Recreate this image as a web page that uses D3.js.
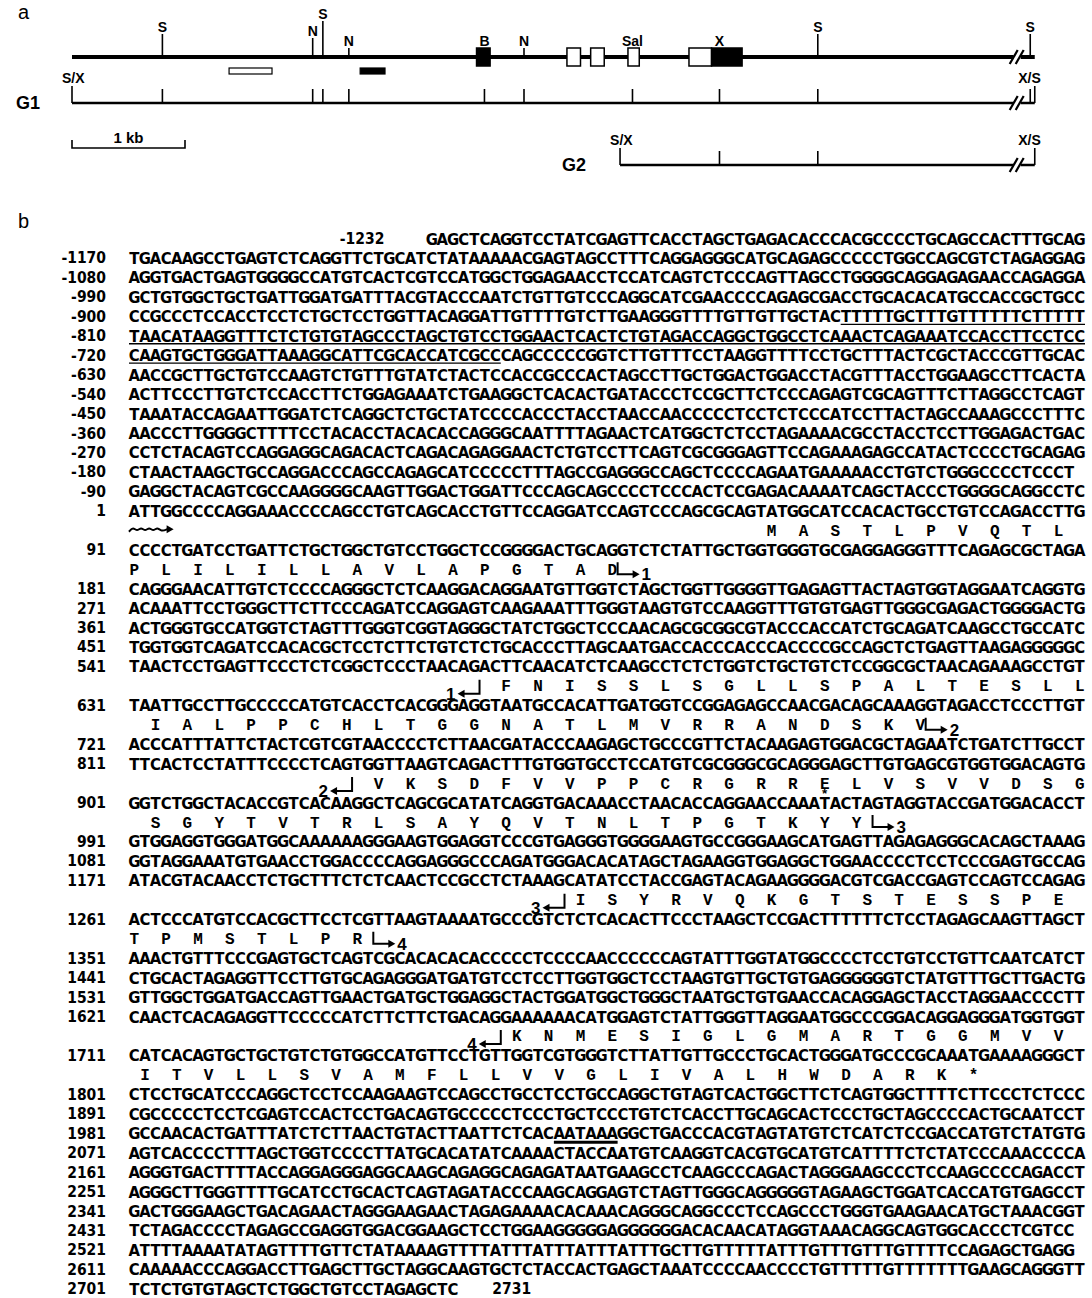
<!DOCTYPE html>
<html>
<head>
<meta charset="utf-8">
<script src="https://cdn.jsdelivr.net/npm/d3@7"></script>
<style>
  body { margin: 0; background: #fff; }
  svg text { fill: #000; }
  .seq { font-family: "Liberation Sans Narrow", "DejaVu Sans Condensed", "Liberation Sans", sans-serif; font-weight: bold; font-size: 16.5px; }
  .num { font-family: "Liberation Sans Narrow", "DejaVu Sans Condensed", "Liberation Sans", sans-serif; font-weight: bold; font-size: 15.5px; }
  .aa  { font-family: "Liberation Mono", "DejaVu Sans Mono", monospace; font-weight: bold; font-size: 16px; }
  .map { font-family: "Liberation Sans", Arial, sans-serif; font-weight: bold; font-size: 14px; }
  .big { font-family: "Liberation Sans", Arial, sans-serif; font-weight: bold; font-size: 18px; }
  .panel { font-family: "Liberation Sans", Arial, sans-serif; font-size: 20px; }
</style>
</head>
<body>
<div id="fig"></div>
<script>
// ---- panel a : restriction map (kb from the left S/X end) ----
const siteNames = ["S", "N", "S", "N", "B", "N", "Sal", "X", "S", "S"]
const siteKb    = [0.80, 2.13, 2.22, 2.45, 3.65, 4.00, 4.96, 5.73, 6.60, 8.48]
const siteTier  = [1, 2, 0, 3, 3, 3, 3, 3, 1, 1]     // label height class
const exonKb    = [[3.58, 3.70], [4.38, 4.50], [4.59, 4.71], [4.92, 5.02], [5.46, 5.66], [5.66, 5.93]]
const exonFill  = ["#000", "#fff", "#fff", "#fff", "#fff", "#000"]
const probeKb   = [[1.39, 1.77], [2.55, 2.77]]
const probeFill = ["#fff", "#000"]
const g2Sites   = [4.85, 5.73, 6.60, 8.52]
const mapEndKb  = 8.52
const breakKb   = 8.36

// ---- panel b : sequence ----
const lineNumbers = [-1232, -1170, -1080, -990, -900, -810, -720, -630, -540, -450, -360, -270, -180, -90,
  1, 91, 181, 271, 361, 451, 541, 631, 721, 811, 901, 991, 1081, 1171, 1261, 1351, 1441, 1531, 1621,
  1711, 1801, 1891, 1981, 2071, 2161, 2251, 2341, 2431, 2521, 2611, 2701]
const lineSeqs = [
  "GAGCTCAGGTCCTATCGAGTTCACCTAGCTGAGACACCCACGCCCCTGCAGCCACTTTGCAG",
  "TGACAAGCCTGAGTCTCAGGTTCTGCATCTATAAAAACGAGTAGCCTTTCAGGAGGGCATGCAGAGCCCCCTGGCCAGCGTCTAGAGGAG",
  "AGGTGACTGAGTGGGGCCATGTCACTCGTCCATGGCTGGAGAACCTCCATCAGTCTCCCAGTTAGCCTGGGGCAGGAGAGAACCAGAGGA",
  "GCTGTGGCTGCTGATTGGATGATTTACGTACCCAATCTGTTGTCCCAGGCATCGAACCCCAGAGCGACCTGCACACATGCCACCGCTGCC",
  "CCGCCCTCCACCTCCTCTGCTCCTGGTTACAGGATTGTTTTGTCTTGAAGGGTTTTGTTGTTGCTACTTTTTGCTTTGTTTTTTCTTTTT",
  "TAACATAAGGTTTCTCTGTGTAGCCCTAGCTGTCCTGGAACTCACTCTGTAGACCAGGCTGGCCTCAAACTCAGAAATCCACCTTCCTCC",
  "CAAGTGCTGGGATTAAAGGCATTCGCACCATCGCCCAGCCCCCGGTCTTGTTTCCTAAGGTTTTCCTGCTTTACTCGCTACCCGTTGCAC",
  "AACCGCTTGCTGTCCAAGTCTGTTTGTATCTACTCCACCGCCCACTAGCCTTGCTGGACTGGACCTACGTTTACCTGGAAGCCTTCACTA",
  "ACTTCCCTTGTCTCCACCTTCTGGAGAAATCTGAAGGCTCACACTGATACCCTCCGCTTCTCCCAGAGTCGCAGTTTCTTAGGCCTCAGT",
  "TAAATACCAGAATTGGATCTCAGGCTCTGCTATCCCCACCCTACCTAACCAACCCCCTCCTCTCCCATCCTTACTAGCCAAAGCCCTTTC",
  "AACCCTTGGGGCTTTTCCTACACCTACACACCAGGGCAATTTTAGAACTCATGGCTCTCCTAGAAAACGCCTACCTCCTTGGAGACTGAC",
  "CCTCTACAGTCCAGGAGGCAGACACTCAGACAGAGGAACTCTGTCCTTCAGTCGCGGGAGTTCCAGAAAGAGCCATACTCCCCTGCAGAG",
  "CTAACTAAGCTGCCAGGACCCAGCCAGAGCATCCCCCTTTAGCCGAGGGCCAGCTCCCCAGAATGAAAAACCTGTCTGGGCCCCTCCCT",
  "GAGGCTACAGTCGCCAAGGGGCAAGTTGGACTGGATTCCCAGCAGCCCCTCCCACTCCGAGACAAAATCAGCTACCCTGGGGCAGGCCTC",
  "ATTGGCCCCAGGAAACCCCAGCCTGTCAGCACCTGTTCCAGGATCCAGTCCCAGCGCAGTATGGCATCCACACTGCCTGTCCAGACCTTG",
  "CCCCTGATCCTGATTCTGCTGGCTGTCCTGGCTCCGGGGACTGCAGGTCTCTATTGCTGGTGGGTGCGAGGAGGGTTTCAGAGCGCTAGA",
  "CAGGGAACATTGTCTCCCCAGGGCTCTCAAGGACAGGAATGTTGGTCTAGCTGGTTGGGGTTGAGAGTTACTAGTGGTAGGAATCAGGTG",
  "ACAAATTCCTGGGCTTCTTCCCAGATCCAGGAGTCAAGAAATTTGGGTAAGTGTCCAAGGTTTGTGTGAGTTGGGCGAGACTGGGGACTG",
  "ACTGGGTGCCATGGTCTAGTTTGGGTCGGTAGGGCTATCTGGCTCCCAACAGCGCGGCGTACCCACCATCTGCAGATCAAGCCTGCCATC",
  "TGGTGGTCAGATCCACACGCTCCTCTTCTGTCTCTGCACCCTTAGCAATGACCACCCACCCACCCCGCCAGCTCTGAGTTAAGAGGGGGC",
  "TAACTCCTGAGTTCCCTCTCGGCTCCCTAACAGACTTCAACATCTCAAGCCTCTCTGGTCTGCTGTCTCCGGCGCTAACAGAAAGCCTGT",
  "TAATTGCCTTGCCCCCATGTCACCTCACGGGAGGTAATGCCACATTGATGGTCCGGAGAGCCAACGACAGCAAAGGTAGACCTCCCTTGT",
  "ACCCATTTATTCTACTCGTCGTAACCCCTCTTAACGATACCCAAGAGCTGCCCGTTCTACAAGAGTGGACGCTAGAATCTGATCTTGCCT",
  "TTCACTCCTATTTCCCCTCAGTGGTTAAGTCAGACTTTGTGGTGCCTCCATGTCGCGGGCGCAGGGAGCTTGTGAGCGTGGTGGACAGTG",
  "GGTCTGGCTACACCGTCACAAGGCTCAGCGCATATCAGGTGACAAACCTAACACCAGGAACCAAATACTAGTAGGTACCGATGGACACCT",
  "GTGGAGGTGGGATGGCAAAAAAGGGAAGTGGAGGTCCCGTGAGGGTGGGGAAGTGCCGGGAAGCATGAGTTAGAGAGGGCACAGCTAAAG",
  "GGTAGGAAATGTGAACCTGGACCCCAGGAGGGCCCAGATGGGACACATAGCTAGAAGGTGGAGGCTGGAACCCCTCCTCCCGAGTGCCAG",
  "ATACGTACAACCTCTGCTTTCTCTCAACTCCGCCTCTAAAGCATATCCTACCGAGTACAGAAGGGGACGTCGACCGAGTCCAGTCCAGAG",
  "ACTCCCATGTCCACGCTTCCTCGTTAAGTAAAATGCCCGTCTCTCACACTTCCCTAAGCTCCGACTTTTTTCTCCTAGAGCAAGTTAGCT",
  "AAACTGTTTCCCGAGTGCTCAGTCGCACACACACCCCCTCCCCAACCCCCCAGTATTTGGTATGGCCCCTCCTGTCCTGTTCAATCATCT",
  "CTGCACTAGAGGTTCCTTGTGCAGAGGGATGATGTCCTCCTTGGTGGCTCCTAAGTGTTGCTGTGAGGGGGGTCTATGTTTGCTTGACTG",
  "GTTGGCTGGATGACCAGTTGAACTGATGCTGGAGGCTACTGGATGGCTGGGCTAATGCTGTGAACCACAGGAGCTACCTAGGAACCCCTT",
  "CAACTCACAGAGGTTCCCCCATCTTCTTCTGACAGGAAAAAACATGGAGTCTATTGGGTTAGGAATGGCCCGGACAGGAGGGATGGTGGT",
  "CATCACAGTGCTGCTGTCTGTGGCCATGTTCCTGTTGGTCGTGGGTCTTATTGTTGCCCTGCACTGGGATGCCCGCAAATGAAAAGGGCT",
  "CTCCTGCATCCCAGGCTCCTCCAAGAAGTCCAGCCTGCCTCCTGCCAGGCTGTAGTCACTGGCTTCTCAGTGGCTTTTCTTCCCTCTCCC",
  "CGCCCCCTCCTCGAGTCCACTCCTGACAGTGCCCCCTCCCTGCTCCCTGTCTCACCTTGCAGCACTCCCTGCTAGCCCCACTGCAATCCT",
  "GCCAACACTGATTTATCTCTTAACTGTACTTAATTCTCACAATAAAGGCTGACCCACGTAGTATGTCTCATCTCCGACCATGTCTATGTG",
  "AGTCACCCCTTTAGCTGGTCCCCTTATGCACATATCAAAACTACCAATGTCAAGGTCACGTGCATGTCATTTTCTCTATCCCAAACCCCA",
  "AGGGTGACTTTTACCAGGAGGGAGGCAAGCAGAGGCAGAGATAATGAAGCCTCAAGCCCAGACTAGGGAAGCCCTCCAAGCCCCAGACCT",
  "AGGGCTTGGGTTTTGCATCCTGCACTCAGTAGATACCCAAGCAGGAGTCTAGTTGGGCAGGGGGTAGAAGCTGGATCACCATGTGAGCCT",
  "GACTGGGAAGCTGACAGAACTAGGGAAGAACTAGAGAAAACACAAACAGGGCAGGCCCTCCAGCCCTGGGTGAAGAACATGCTAAACGGT",
  "TCTAGACCCCTAGAGCCGAGGTGGACGGAAGCTCCTGGAAGGGGGAGGGGGGACACAACATAGGTAAACAGGCAGTGGCACCCTCGTCC",
  "ATTTTAAAATATAGTTTTGTTCTATAAAAGTTTTATTTATTTATTTATTTGCTTGTTTTTATTTGTTTGTTTGTTTTCCAGAGCTGAGG",
  "CAAAAACCCAGGACCTTGAGCTTGCTAGGCAAGTGCTCTACCACTGAGCTAAATCCCCAACCCCTGTTTTTGTTTTTTTGAAGCAGGGTT",
  "TCTCTGTGTAGCTCTGGCTGTCCTAGAGCTC"
]
const endNumber = 2731

// amino-acid rows: line they sit under, translation, column of first codon
const aaLine  = [1, 91, 541, 631, 811, 901, 1171, 1261, 1621, 1711]
const aaSeq   = ["MASTLPVQTL", "PLILILLAVLAPGTAD", "FNISSLSGLLSPALTESLL", "IALPPCHLTGGNATLMVRRANDSKV",
                 "VKSDFVVPPCRGRRELVSVVDSG", "SGYTVTRLSAYQVTNLTPGTKYY", "ISYRVQKGTSTESSPE", "TPMSTLPR",
                 "KNMESIGLGMARTGGMVV", "ITVLLSVAMFLLVVGLIVALHWDARK*"]
const aaStart = [60, 0, 35, 2, 23, 2, 42, 0, 36, 1]

// exon ends (donor, arrow to the right) and exon starts (acceptor, arrow to the left)
const donorLine = [91, 631, 901, 1261], donorCol = [46, 75, 70, 23], donorExon = [1, 2, 3, 4]
const accLine   = [541, 811, 1171, 1621], accCol = [33, 21, 41, 35], accExon = [1, 2, 3, 4]

// underlined stretches
const ulLine = [-900, -810, -720, 1981]
const ulFrom = [67, 0, 0, 40]
const ulTo   = [90, 90, 35, 46]
const ulBold = [false, false, false, true]

// starred residue (row under line 811, residue index)
const starLine = 811, starIdx = 14

const W = 1092, H = 1298
const svg = d3.select("#fig").append("svg").attr("width", W).attr("height", H)

// ================= panel a =================
const kb = d3.scaleLinear().domain([0, 1]).range([72, 185])
const geneY = 57, g1Y = 103, barY = 148, g2Y = 165
const tierY = [19, 32, 36, 46]
const pa = svg.append("g")

pa.append("text").attr("class", "panel").attr("x", 18).attr("y", 19).text("a")

// site ticks + labels
siteKb.forEach((k, i) => {
  const top = tierY[siteTier[i]]
  pa.append("line").attr("x1", kb(k)).attr("x2", kb(k)).attr("y1", top + 2).attr("y2", geneY)
    .attr("stroke", "#000").attr("stroke-width", 1.6)
  pa.append("text").attr("class", "map").attr("x", kb(k)).attr("y", top)
    .attr("text-anchor", "middle").text(siteNames[i])
})
pa.append("line").attr("x1", kb(0)).attr("x2", kb(mapEndKb)).attr("y1", geneY).attr("y2", geneY)
  .attr("stroke", "#000").attr("stroke-width", 4)
pa.selectAll("rect.exon").data(exonKb).join("rect").attr("class", "exon")
  .attr("x", d => kb(d[0])).attr("width", d => kb(d[1]) - kb(d[0]))
  .attr("y", geneY - 9).attr("height", 18)
  .attr("fill", (d, i) => exonFill[i]).attr("stroke", "#000").attr("stroke-width", 1.5)
pa.selectAll("rect.probe").data(probeKb).join("rect").attr("class", "probe")
  .attr("x", d => kb(d[0])).attr("width", d => kb(d[1]) - kb(d[0]))
  .attr("y", geneY + 11).attr("height", 6)
  .attr("fill", (d, i) => probeFill[i]).attr("stroke", "#000").attr("stroke-width", 1.2)

function breakMark(g, k, y) {
  const bx = kb(k)
  g.append("rect").attr("x", bx - 3).attr("y", y - 5).attr("width", 7).attr("height", 10).attr("fill", "#fff")
  ;[-3, 3].forEach(o => g.append("line")
    .attr("x1", bx + o - 4).attr("y1", y + 7).attr("x2", bx + o + 4).attr("y2", y - 7)
    .attr("stroke", "#000").attr("stroke-width", 2.2))
}
breakMark(pa, breakKb, geneY)

// G1 clone
pa.append("text").attr("class", "big").attr("x", 16).attr("y", g1Y + 6).text("G1")
pa.append("line").attr("x1", kb(0)).attr("x2", kb(mapEndKb)).attr("y1", g1Y).attr("y2", g1Y)
  .attr("stroke", "#000").attr("stroke-width", 2.5)
;[0, ...siteKb, mapEndKb].forEach((k, i, arr) => {
  const end = i === 0 || i === arr.length - 1
  pa.append("line").attr("x1", kb(k)).attr("x2", kb(k)).attr("y1", g1Y - (end ? 17 : 14)).attr("y2", g1Y)
    .attr("stroke", "#000").attr("stroke-width", 1.6)
})
breakMark(pa, breakKb, g1Y)
pa.append("text").attr("class", "map").attr("x", kb(0) - 10).attr("y", g1Y - 20).text("S/X")
pa.append("text").attr("class", "map").attr("x", kb(mapEndKb) + 6).attr("y", g1Y - 20)
  .attr("text-anchor", "end").text("X/S")

// scale bar
pa.append("path").attr("d", `M${kb(0)},${barY - 8}V${barY}H${kb(1)}V${barY - 8}`)
  .attr("fill", "none").attr("stroke", "#000").attr("stroke-width", 1.6)
pa.append("text").attr("class", "map").style("font-size", "15px").attr("x", kb(0.5)).attr("y", barY - 5)
  .attr("text-anchor", "middle").text("1 kb")

// G2 clone
pa.append("text").attr("class", "big").attr("x", kb(g2Sites[0]) - 58).attr("y", g2Y + 6).text("G2")
pa.append("line").attr("x1", kb(g2Sites[0])).attr("x2", kb(mapEndKb)).attr("y1", g2Y).attr("y2", g2Y)
  .attr("stroke", "#000").attr("stroke-width", 2.5)
g2Sites.forEach((k, i) => {
  const end = i === 0 || i === g2Sites.length - 1
  pa.append("line").attr("x1", kb(k)).attr("x2", kb(k)).attr("y1", g2Y - (end ? 17 : 14)).attr("y2", g2Y)
    .attr("stroke", "#000").attr("stroke-width", 1.6)
})
breakMark(pa, breakKb, g2Y)
pa.append("text").attr("class", "map").attr("x", kb(g2Sites[0]) - 10).attr("y", g2Y - 20).text("S/X")
pa.append("text").attr("class", "map").attr("x", kb(mapEndKb) + 6).attr("y", g2Y - 20)
  .attr("text-anchor", "end").text("X/S")

// ================= panel b =================
const rows = []
lineNumbers.forEach((n, i) => {
  rows.push({ type: "seq", n, s: lineSeqs[i], i })
  if (aaLine.includes(n)) rows.push({ type: "aa", n, k: aaLine.indexOf(n) })
})
const x = d3.scaleLinear().domain([0, 90]).range([129, 1085])
const y = d3.scaleLinear().domain([0, rows.length - 1]).range([238.5, 1288.8])
rows.forEach((r, j) => r.y = y(j))
const rowOf = (t, n) => rows.find(r => r.type === t && r.n === n)

const pb = svg.append("g")
pb.append("text").attr("class", "panel").attr("x", 18).attr("y", 228).text("b")

const seqRows = rows.filter(r => r.type === "seq")
seqRows.forEach(r => { r.c0 = r.i === 0 ? 90 - r.s.length : 0 })

// bases, one glyph per column
const bases = seqRows.flatMap(r => r.s.split("").map((b, c) => ({ b, c: r.c0 + c, y: r.y })))
pb.append("g").selectAll("text").data(bases).join("text")
  .attr("class", "seq").attr("text-anchor", "middle")
  .attr("x", d => x(d.c + 0.5)).attr("y", d => d.y + 6).text(d => d.b)

// line numbers
pb.append("g").selectAll("text").data(seqRows).join("text")
  .attr("class", "num").attr("text-anchor", "end")
  .attr("x", r => r.i === 0 ? x(r.c0) - 42 : 106).attr("y", r => r.y + 5.5).text(r => r.n)
const lastRow = seqRows[seqRows.length - 1]
pb.append("text").attr("class", "num").attr("x", x(lastRow.s.length) + 34).attr("y", lastRow.y + 5.5).text(endNumber)

// underlines
ulLine.forEach((n, i) => {
  const r = rowOf("seq", n)
  pb.append("line").attr("x1", x(ulFrom[i])).attr("x2", x(ulTo[i]))
    .attr("y1", r.y + (ulBold[i] ? 9 : 8)).attr("y2", r.y + (ulBold[i] ? 9 : 8))
    .attr("stroke", "#000").attr("stroke-width", ulBold[i] ? 3 : 1.3)
})

// amino acids
const aaRows = rows.filter(r => r.type === "aa")
const residues = aaRows.flatMap(r => aaSeq[r.k].split("").map((a, m) => ({ a, c: aaStart[r.k] + 3 * m, y: r.y })))
pb.append("g").selectAll("text").data(residues).join("text")
  .attr("class", "aa").attr("text-anchor", "middle")
  .attr("x", d => x(d.c + 0.5)).attr("y", d => d.y + 5.5).text(d => d.a)

// starred residue
{
  const r = rowOf("aa", starLine), k = aaLine.indexOf(starLine)
  pb.append("text").attr("class", "aa").attr("text-anchor", "middle").style("font-size", "13px")
    .attr("x", x(aaStart[k] + 3 * starIdx + 0.5)).attr("y", r.y + 15).text("*")
}

// splice arrows
function arrowHead(g, tipX, yy, dir) {
  g.append("path").attr("d", `M${tipX},${yy}L${tipX - dir * 7},${yy - 4}L${tipX - dir * 7},${yy + 4}Z`).attr("fill", "#000")
}
donorLine.forEach((n, i) => {
  const r = rowOf("aa", n), bx = x(donorCol[i]), yy = r.y + 5
  pb.append("path").attr("d", `M${bx},${r.y - 7}V${yy}H${bx + 18}`).attr("fill", "none").attr("stroke", "#000").attr("stroke-width", 2)
  arrowHead(pb, bx + 22, yy, 1)
  pb.append("text").attr("class", "big").attr("x", bx + 24).attr("y", r.y + 11).style("font-size", "17px").text(donorExon[i])
})
accLine.forEach((n, i) => {
  const r = rowOf("aa", n), bx = x(accCol[i]), yy = r.y + 8
  pb.append("path").attr("d", `M${bx},${r.y - 6}V${yy}H${bx - 18}`).attr("fill", "none").attr("stroke", "#000").attr("stroke-width", 2)
  arrowHead(pb, bx - 22, yy, -1)
  pb.append("text").attr("class", "big").attr("x", bx - 24).attr("y", r.y + 14).attr("text-anchor", "end")
    .style("font-size", "17px").text(accExon[i])
})

// transcription start (wavy arrow under position 1)
{
  const r = rowOf("aa", 1), yy = r.y - 1
  const pts = d3.range(0, 9).map(t => [x(t * 0.38), yy + (t % 2 ? -2.5 : 2.5)])
  pts.push([x(3.6), yy])
  pb.append("path").attr("d", d3.line().curve(d3.curveBasis)(pts)).attr("fill", "none").attr("stroke", "#000").attr("stroke-width", 2)
  arrowHead(pb, x(4.2), yy, 1)
}
</script>
</body>
</html>
